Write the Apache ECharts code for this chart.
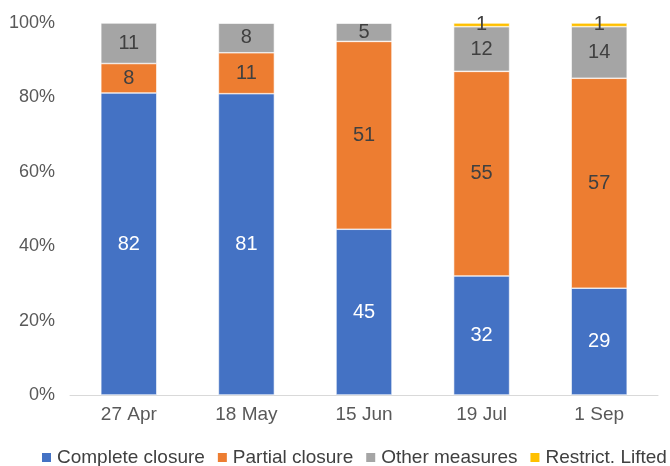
<!DOCTYPE html>
<html>
<head>
<meta charset="utf-8">
<script src="https://cdn.jsdelivr.net/npm/echarts@6/dist/echarts.min.js"></script>
<style>
  html, body { margin: 0; padding: 0; background: #fff; }
  #main { width: 670px; height: 466px; }
</style>
</head>
<body>
<div id="main"></div>
<script>
const dates = ['27 Apr', '18 May', '15 Jun', '19 Jul', '1 Sep']
const complete = [82, 81, 45, 32, 29]
const partial = [8, 11, 51, 55, 57]
const other = [11, 8, 5, 12, 14]
const lifted = [0, 0, 0, 1, 1]

const names = ['Complete closure', 'Partial closure', 'Other measures', 'Restrict. Lifted']
const colors = ['#4472C4', '#ED7D31', '#A5A5A5', '#FFC000']
const raw = [complete, partial, other, lifted]

// totals don't always add to exactly 100, so scale each column to 100%
const totals = dates.map((d, i) => raw.reduce((s, arr) => s + arr[i], 0))

const series = raw.map((arr, k) => ({
  name: names[k],
  type: 'bar',
  stack: 'all',
  barWidth: 56,
  data: arr.map((v, i) => v / totals[i] * 100),
  itemStyle: { color: colors[k], borderColor: '#fff', borderWidth: 0.6 },
  label: {
    show: true,
    position: 'inside',
    fontFamily: 'Liberation Sans',
    fontSize: 20,
    color: k === 0 ? '#fff' : '#404040',
    formatter: (p) => (arr[p.dataIndex] ? String(arr[p.dataIndex]) : '')
  }
}))

const chart = echarts.init(document.getElementById('main'))
chart.setOption({
  animation: false,
  textStyle: { fontFamily: 'Liberation Sans' },
  grid: { left: 70, right: 12, top: 23, bottom: 71 },
  legend: {
    data: names,
    bottom: -1,
    left: 40,
    width: 660,
    padding: 0,
    itemWidth: 11,
    itemHeight: 11,
    itemGap: 11,
    icon: 'rect',
    textStyle: { fontSize: 19, color: '#404040', fontFamily: 'Liberation Sans' }
  },
  xAxis: {
    type: 'category',
    data: dates,
    axisTick: { show: false },
    axisLine: { lineStyle: { color: '#d9d9d9', width: 1 } },
    axisLabel: { fontSize: 19, color: '#595959', margin: 10 }
  },
  yAxis: {
    type: 'value',
    min: 0,
    max: 100,
    interval: 20,
    splitLine: { show: false },
    axisLine: { show: false },
    axisTick: { show: false },
    axisLabel: { fontSize: 18, color: '#595959', margin: 15, formatter: '{value}%' }
  },
  series: series
})
</script>
</body>
</html>
